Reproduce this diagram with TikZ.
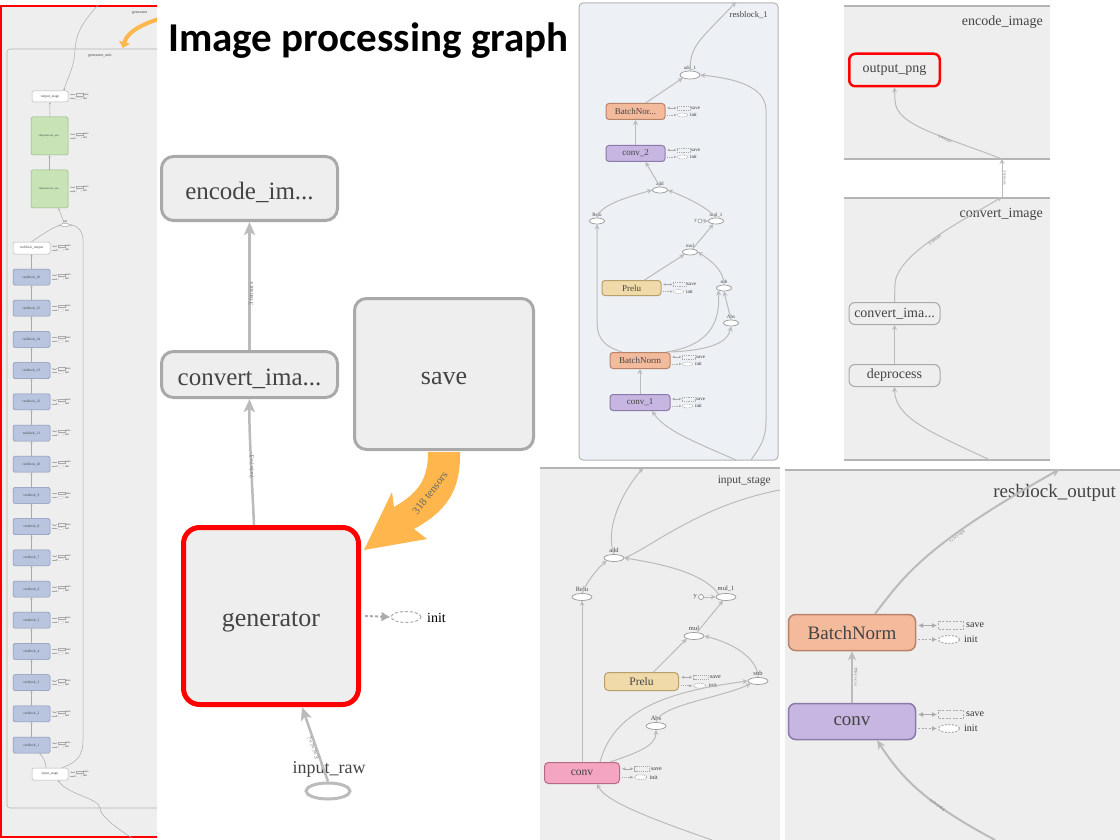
\documentclass[tikz,border=0pt]{standalone}
\usepackage{fontspec}
\setmainfont{Liberation Serif}
\newfontfamily\titlefont{Carlito}
\usetikzlibrary{arrows.meta,shapes.geometric}
\newcommand\fsz[1]{\fontsize{#1}{#1}\selectfont}
\definecolor{panelgray}{HTML}{EEEEEE}
\definecolor{panelblue}{HTML}{EDF0F5}
\definecolor{boxgray}{HTML}{A9A9A9}
\definecolor{bordgray}{HTML}{B4B4B4}
\definecolor{edgegray}{HTML}{BBBBBB}
\definecolor{elgray}{HTML}{999999}
\definecolor{sigray}{HTML}{AAAAAA}
\definecolor{textgray}{HTML}{444444}
\definecolor{salmonF}{HTML}{F4BA9C}
\definecolor{salmonD}{HTML}{B9836A}
\definecolor{lavF}{HTML}{C6B6E1}
\definecolor{lavD}{HTML}{8C7BAA}
\definecolor{tanF}{HTML}{F1DAA9}
\definecolor{tanD}{HTML}{B8A06A}
\definecolor{pinkF}{HTML}{F4A5C1}
\definecolor{pinkD}{HTML}{B66B85}
\definecolor{rbF}{HTML}{B9C5DE}
\definecolor{rbD}{HTML}{8492B5}
\definecolor{grnF}{HTML}{C8E3B6}
\definecolor{grnD}{HTML}{91B47E}
\definecolor{orng}{HTML}{FFB64D}
\definecolor{tred}{HTML}{FF0000}
\tikzset{
  bigbox/.style={draw=boxgray, line width=3, rounded corners=12, fill=panelgray, inner sep=0, text=textgray, font=\fsz{25}, text height=21.5pt, text depth=0pt},
  opbox/.style={draw=boxgray, line width=1, rounded corners=3, inner sep=0, text=textgray},
  opell/.style={ellipse, draw=elgray, fill=white, line width=0.7, inner sep=0},
  ellab/.style={inner sep=0, text=textgray, anchor=south},
  lbl/.style={inner sep=0, text=textgray},
  elbl/.style={inner sep=0, text=textgray!75},
  edge/.style={draw=edgegray, line width=1, -{Stealth[length=5pt,width=5pt]}},
  plainedge/.style={draw=edgegray, line width=1},
  edgetwo/.style={draw=edgegray, line width=2, -{Stealth[length=9pt,width=8pt]}},
  bigedge/.style={draw=edgegray, line width=2.5, -{Stealth[length=13pt,width=11pt,inset=3pt]}},
  sbox/.style={draw=rbD, fill=rbF, rounded corners=1.5, line width=0.5, minimum width=37, minimum height=16, inner sep=0, font=\fsz{3.6}, text=textgray},
  sedge/.style={draw=sigray, line width=0.5, -{Stealth[length=2pt,width=2pt]}},
  saveinit/.pic={%
    \pgfmathsetmacro\sis{#1}%
    \pgfmathsetmacro\sif{10*#1}%
    \pgfmathsetmacro\sia{5*#1}%
    \pgfmathsetmacro\silw{1*#1}%
    \pgfmathsetmacro\sion{2*#1}%
    \pgfmathsetmacro\sioff{1.5*#1}%
    \draw[sigray, line width=\silw pt, {Latex[length=\sia pt,width=\sia pt]}-{Latex[length=\sia pt,width=\sia pt]}] (0,-7*\sis) -- (19*\sis,-7*\sis);
    \node[draw=sigray, line width=\silw pt, dash pattern=on \sion pt off \sioff pt, minimum width=25*\sis, minimum height=8*\sis, inner sep=0, anchor=west] (-sv) at (20*\sis,-7*\sis) {};
    \node[anchor=west, inner sep=0, font=\fsz{\sif}, text=black!80] (-svt) at (48*\sis,-7*\sis) {save};
    \draw[sigray, line width=\silw pt, dash pattern=on \sion pt off \sioff pt, -{Latex[length=\sia pt,width=\sia pt]}] (0,7*\sis) -- (19*\sis,7*\sis);
    \node[ellipse, draw=sigray, fill=white, line width=\silw pt, dash pattern=on \sion pt off \sioff pt, minimum width=21*\sis, minimum height=8*\sis, inner sep=0, anchor=west] (-in) at (20*\sis,7*\sis) {};
    \node[anchor=west, inner sep=0, font=\fsz{\sif}, text=black!80] (-int) at (46*\sis,7*\sis) {init};
  }
}
\begin{document}
\begin{tikzpicture}[x=1pt,y=-1pt]
\useasboundingbox (0,0) rectangle (1120,840);
\fill[white] (0,0) rectangle (1120,840);

% ================= LEFT STRIP =================
\begin{scope}
\clip (0,0) rectangle (157,840);
\fill[panelgray] (0,6) rectangle (157,838);
\draw[bordgray, line width=0.6, rounded corners=3, fill=panelgray] (7,49) rectangle (175,808);
\draw[tred, line width=2] (0,6) -- (160,6);
\draw[tred, line width=2] (1,6) -- (1,838);
\draw[tred, line width=2] (0,837) -- (160,837);
\node[lbl, anchor=west, font=\fsz{4}] (sgenT) at (132,13) {generator};
\node[lbl, font=\fsz{4}] (sgunT) at (100,56) {generator\_unit};
\coordinate (sOrA) at (162,18);
\coordinate (sOrB) at (123,48);
\draw[orng, line width=4, -{Triangle[length=6pt,width=11pt]}] (sOrA) .. controls (142,24) and (127,32) .. (sOrB);

\node[sbox, draw=bordgray, fill=white, minimum width=36, minimum height=11] (sos) at (50,96.5) {output\_stage};
\node[sbox, draw=grnD, fill=grnF, minimum width=37, minimum height=38, font=\fsz{2.8}] (sg1) at (49.5,136) {subpixelconv\_sta...};
\node[sbox, draw=grnD, fill=grnF, minimum width=37, minimum height=38, font=\fsz{2.8}] (sg2) at (49.5,189) {subpixelconv\_sta...};
\node[opell, line width=0.4, minimum width=9, minimum height=3.5] (sadd) at (65,225) {};
\node[ellab, font=\fsz{3}] (saddL) at (65,223) {add};
\node[sbox, draw=bordgray, fill=white, minimum height=12] (sro) at (31.5,248) {resblock\_output};
\node[sbox, draw=bordgray, fill=white, minimum width=36, minimum height=12] (sis) at (50,774) {input\_stage};
\pic (ssos) at (70,96.5) {saveinit=0.28};
\pic (ssg1) at (70,136) {saveinit=0.28};
\pic (ssg2) at (70,189) {saveinit=0.28};
\pic (ssro) at (52,248) {saveinit=0.28};
\pic (ssis) at (70,774) {saveinit=0.28};
\foreach \k in {1,...,16} {
  \pgfmathsetmacro\yy{277+(16-\k)*31.2}
  \node[sbox] (srb\k) at (31.5,\yy) {resblock\_\k};
  \pic (ssrb\k) at (52,\yy) {saveinit=0.28};
}
\foreach \k in {1,...,15} {
  \pgfmathtruncatemacro\kn{\k+1}
  \draw[sedge] (srb\k) -- (srb\kn);
}
\coordinate (sTop) at (98,5);
\draw[sedge] (sTop) .. controls (80,25) and (76,35) .. (75,50) .. controls (74,70) and (66,80) .. ([xshift=14pt]sos.north);
\draw[sedge] (sg1) -- (sos);
\draw[sedge] (sg2) -- (sg1);
\draw[sedge] (sadd) -- ([xshift=9pt]sg2.south);
\draw[sedge] (srb16) -- (sro);
\draw[sedge] (sro.north) .. controls (40,236) and (50,229) .. (sadd.west);
\draw[sedge] ([xshift=-4pt]sis.north) .. controls (46,762) and (43,757) .. ([xshift=8pt]srb1.south);
\draw[sedge] ([xshift=12pt]sis.north) .. controls (78,762) and (83,755) .. (83,740) -- (83,240) .. controls (83,230) and (76,225) .. (sadd.east);
\coordinate (sBot) at (132,838);
\draw[sedge] (sBot) .. controls (112,825) and (100,815) .. (100,808) .. controls (99,798) and (68,795) .. ([xshift=8pt]sis.south);
\end{scope}

% ================= TITLE =================
\node[inner sep=0, anchor=base west, font=\titlefont\bfseries\fsz{41}] (title) at (168,52) {Image processing graph};

% ================= MIDDLE GRAPH =================
\node[bigbox, minimum width=176, minimum height=64] (encm) at (249.5,188.5) {encode\_im...};
\node[bigbox, minimum width=176, minimum height=46] (convm) at (249.5,374.5) {convert\_ima...};
\node[bigbox, minimum width=179, minimum height=151, font=\fsz{26}] (savem) at (444,374) {save};
\node[bigbox, draw=tred, line width=5, rounded corners=16, minimum width=175, minimum height=177, font=\fsz{26}] (gen) at (271,616) {generator};
\node[ellipse, draw=sigray, line width=1, dash pattern=on 3pt off 2pt, minimum width=30, minimum height=11, inner sep=0] (initm) at (406,617) {};
\node[lbl, anchor=west, font=\fsz{14}, text=black] (initT) at (427,618) {init};
\draw[sigray, line width=2, dash pattern=on 3pt off 2pt, -{Latex[length=9pt,width=10pt]}] (gen.east) ++(4,0) -- (initm.west);
\node[ellipse, draw=edgegray, line width=3, minimum width=44, minimum height=16, inner sep=0] (inraw) at (328,791) {};
\node[lbl, font=\fsz{18}] (inrawT) at (329,769) {input\_raw};
\draw[bigedge] (convm) -- (encm);
\draw[bigedge] ([xshift=-17pt]gen.north) .. controls (252,480) and (249,430) .. (convm.south);
\draw[bigedge] (inraw.north) -- ([xshift=31pt]gen.south);
\node[elbl, rotate=90, font=\fsz{6.5}] (lab1) at (251,294) {3 tensors};
\node[elbl, rotate=90, font=\fsz{6.5}] (lab2) at (252,467) {?×?×?×3};
\node[elbl, rotate=-70, font=\fsz{6.5}] (lab3) at (313,748) {?×?×?×3};
\fill[orng] (428,452) -- (460,452) .. controls (461,492) and (445,512) .. (414,529) -- (427,539) -- (364,550) -- (392,492) -- (394,507) .. controls (420,492) and (428,478) .. (428,452) -- cycle;
\node[elbl, rotate=52, font=\fsz{11}, text=black!60] (lab4) at (430,493) {318 tensors};

% ================= RESBLOCK_1 PANEL =================
\draw[bordgray, line width=1, fill=panelblue, rounded corners=4] (579,3) rectangle (778,460);
\node[lbl, anchor=east, font=\fsz{8.7}] (r1T) at (768,15) {resblock\_1};
\node[opell, minimum width=20, minimum height=8] (radd1) at (690,75) {};
\node[ellab, font=\fsz{5}] (radd1L) at (690,70) {add\_1};
\node[opbox, fill=salmonF, draw=salmonD, minimum width=59, minimum height=16, font=\fsz{9}] (rbn2) at (635.5,111.5) {BatchNor...};
\node[opbox, fill=lavF, draw=lavD, minimum width=59, minimum height=16, font=\fsz{9}] (rc2) at (635.5,153.5) {conv\_2};
\node[opell, minimum width=15, minimum height=6] (radd) at (660,190) {};
\node[ellab, font=\fsz{5}] (raddL) at (660,186) {add};
\node[opell, minimum width=15, minimum height=6] (rrelu) at (597,221) {};
\node[ellab, font=\fsz{5}] (rreluL) at (597,217) {Relu};
\node[opell, minimum width=15, minimum height=6] (rmul1) at (716,221) {};
\node[ellab, font=\fsz{5}] (rmul1L) at (716,217) {mul\_1};
\node[circle, draw=elgray, fill=white, minimum size=4, inner sep=0, line width=0.6] (ry) at (700,221) {};
\node[lbl, anchor=east, font=\fsz{5}] (ryL) at (697,221) {y};
\node[opell, minimum width=15, minimum height=6] (rmul) at (690,252) {};
\node[ellab, font=\fsz{5}] (rmulL) at (690,248) {mul};
\node[opbox, fill=tanF, draw=tanD, minimum width=59, minimum height=15, font=\fsz{9}] (rprelu) at (631.5,288) {Prelu};
\node[opell, minimum width=15, minimum height=6] (rsub) at (724,288) {};
\node[ellab, font=\fsz{5}] (rsubL) at (724,284) {sub};
\node[opell, minimum width=15, minimum height=6] (rabs) at (731,323) {};
\node[ellab, font=\fsz{5}] (rabsL) at (731,319) {Abs};
\node[opbox, fill=salmonF, draw=salmonD, minimum width=60, minimum height=16, font=\fsz{9}] (rbn) at (640,360.5) {BatchNorm};
\node[opbox, fill=lavF, draw=lavD, minimum width=60, minimum height=16, font=\fsz{9}] (rc1) at (640,402.5) {conv\_1};
\pic (rsi1) at (667,111.5) {saveinit=0.5};
\pic (rsi2) at (667,153.5) {saveinit=0.5};
\pic (rsi3) at (663,288) {saveinit=0.5};
\pic (rsi4) at (672,360.5) {saveinit=0.5};
\pic (rsi5) at (672,402.5) {saveinit=0.5};
\draw[edge] (rc1) -- (rbn);
\draw[edge] ([xshift=-18pt]rbn.north) .. controls (600,345) and (597,335) .. (597,320) -- (rrelu.south);
\draw[edge] ([xshift=-4pt]rbn.north east) .. controls (712,345) and (720,320) .. (rsub.south west);
\draw[edge] (rbn.north east) .. controls (712,350) and (728,342) .. (rabs.south);
\draw[edge] (rabs.north) -- (rsub.south);
\draw[edge] ([xshift=13pt]rprelu.north) -- (rmul.south west);
\draw[edge] (rsub.north) .. controls (724,270) and (710,260) .. (rmul.east);
\draw[edge] (rmul) -- (rmul1);
\draw[edge] (ry) -- (rmul1);
\draw[edge] (rrelu.north) .. controls (600,205) and (625,198) .. (radd.west);
\draw[edge] (rmul1.north) .. controls (705,205) and (680,195) .. (radd.east);
\draw[edge] (radd.north) -- ([xshift=10pt]rc2.south);
\draw[edge] (rc2) -- (rbn2);
\draw[edge] ([xshift=10pt]rbn2.north) -- (radd1.south west);
\coordinate (r1Out) at (736,2);
\draw[edge] (radd1.north) .. controls (690,45) and (700,40) .. (r1Out);
\coordinate (r1Skip) at (751,460);
\draw[edge] (r1Skip) .. controls (760,447) and (766,440) .. (766,420) -- (766,110) .. controls (766,85) and (730,78) .. (radd1.east);
\coordinate (r1In) at (736,460);
\draw[edge] (r1In) .. controls (690,440) and (665,430) .. ([xshift=12pt]rc1.south);

% ================= INPUT_STAGE PANEL =================
\fill[panelgray] (540,468) rectangle (780,840);
\draw[bordgray, line width=1.2] (540,468) -- (780,468);
\node[lbl, anchor=east, font=\fsz{11.5}] (isT) at (771,481) {input\_stage};
\node[opell, minimum width=20, minimum height=7] (iadd) at (614,558) {};
\node[ellab, font=\fsz{6.5}] (iaddL) at (614,553) {add};
\node[opell, minimum width=20, minimum height=7] (irelu) at (582,597) {};
\node[ellab, font=\fsz{6.5}] (ireluL) at (582,592) {Relu};
\node[opell, minimum width=20, minimum height=7] (imul1) at (726,597) {};
\node[ellab, font=\fsz{6.5}] (imul1L) at (726,592) {mul\_1};
\node[circle, draw=elgray, fill=white, minimum size=5, inner sep=0, line width=0.7] (iy) at (701,597) {};
\node[lbl, anchor=east, font=\fsz{6.5}] (iyL) at (697,597) {y};
\node[opell, minimum width=20, minimum height=7] (imul) at (694,636) {};
\node[ellab, font=\fsz{6.5}] (imulL) at (694,631) {mul};
\node[opbox, fill=tanF, draw=tanD, rounded corners=4, minimum width=74, minimum height=18, font=\fsz{11.5}] (iprelu) at (641.5,681.5) {Prelu};
\node[opell, minimum width=20, minimum height=7] (isub) at (758,681) {};
\node[ellab, font=\fsz{6.5}] (isubL) at (758,676) {sub};
\node[opell, minimum width=20, minimum height=7] (iabs) at (656,726) {};
\node[ellab, font=\fsz{6.5}] (iabsL) at (656,721) {Abs};
\node[opbox, fill=pinkF, draw=pinkD, rounded corners=4, minimum width=75, minimum height=21, font=\fsz{11.5}] (iconv) at (582,773) {conv};
\pic (isi1) at (681,681.5) {saveinit=0.6};
\pic (isi2) at (622,773) {saveinit=0.6};
\draw[edge] (iconv) -- (irelu);
\draw[edge] (irelu.north) .. controls (588,580) and (598,568) .. (iadd.south west);
\coordinate (isOut) at (643,468);
\draw[edge] (iadd.north) .. controls (605,530) and (620,495) .. (isOut);
\coordinate (isSkip) at (780,490);
\draw[plainedge] (iadd.east) .. controls (650,548) and (700,505) .. (isSkip);
\draw[edge] (imul1.north west) .. controls (705,575) and (670,565) .. (iadd.east);
\draw[edge] (imul) -- (imul1);
\draw[edge] (iy) -- (imul1);
\draw[edge] ([xshift=12pt]iprelu.north) -- (imul.south west);
\draw[edge] (isub.north) .. controls (758,662) and (740,645) .. (imul.east);
\draw[edge] ([xshift=18pt]iconv.north) .. controls (615,705) and (680,690) .. (isub.west);
\draw[edge] ([xshift=28pt]iconv.north) .. controls (640,752) and (656,745) .. (iabs.south);
\draw[edge] (iabs.north) .. controls (660,705) and (720,698) .. (isub.south west);
\coordinate (isIn) at (712,840);
\draw[edge] (isIn) .. controls (640,815) and (605,800) .. ([xshift=15pt]iconv.south);

% ================= RIGHT TOP PANELS =================
\fill[panelgray] (844,6) rectangle (1050,159);
\draw[bordgray, line width=1.2] (844,6) -- (1050,6);
\draw[bordgray, line width=1.2] (844,159) -- (1050,159);
\node[lbl, anchor=east, font=\fsz{14}] (encT) at (1043,22) {encode\_image};
\node[opbox, draw=tred, line width=2.5, rounded corners=6, fill=panelgray, minimum width=90.5, minimum height=32.5, font=\fsz{14}] (outpng) at (894.5,70) {output\_png};
\coordinate (encIn) at (1002,159);
\draw[edge] (encIn) .. controls (940,135) and (895,125) .. (895,100) -- (outpng.south);
\node[elbl, rotate=-25, font=\fsz{4}] (lab5) at (945,139) {3 tensors};
\fill[panelgray] (844,198) rectangle (1050,460);
\draw[bordgray, line width=1.2] (844,198) -- (1050,198);
\draw[bordgray, line width=1.2] (844,460) -- (1050,460);
\coordinate (cvOut) at (1002,197);
\draw[edge] (cvOut) -- (encIn);
\node[elbl, rotate=-90, font=\fsz{4}] (lab6) at (1005,178) {3 tensors};
\node[lbl, anchor=east, font=\fsz{14}] (cvT) at (1043,214) {convert\_image};
\node[opbox, fill=panelgray, rounded corners=6, minimum width=91, minimum height=22, font=\fsz{14}] (cvim) at (894.5,313.5) {convert\_ima...};
\node[opbox, fill=panelgray, rounded corners=6, minimum width=91, minimum height=22, font=\fsz{14}] (depr) at (894.5,375.5) {deprocess};
\draw[edge] (depr) -- (cvim);
\draw[edge] (cvim.north) -- (895,285) .. controls (895,255) and (960,222) .. (cvOut);
\node[elbl, rotate=35, font=\fsz{4}] (lab7) at (935,240) {3 tensors};
\coordinate (cvIn) at (990,460);
\draw[edge] (cvIn) .. controls (930,432) and (895,418) .. (depr.south);

% ================= RESBLOCK_OUTPUT PANEL =================
\fill[panelgray] (785,470) rectangle (1120,840);
\draw[bordgray, line width=1.2] (785,470) -- (1120,470);
\node[lbl, anchor=east, font=\fsz{19}] (roT) at (1116,493) {resblock\_output};
\node[opbox, fill=salmonF, draw=salmonD, line width=1.5, rounded corners=7, minimum width=127, minimum height=36, font=\fsz{19}] (obn) at (852,632.5) {BatchNorm};
\node[opbox, fill=lavF, draw=lavD, line width=1.5, rounded corners=7, minimum width=127, minimum height=36, font=\fsz{19}] (ocv) at (852,721.5) {conv};
\pic (osi1) at (918,632.5) {saveinit=1};
\pic (osi2) at (918,721.5) {saveinit=1};
\draw[edgetwo] (ocv) -- (obn);
\coordinate (roOut) at (1060,469);
\draw[edgetwo] ([xshift=23pt]obn.north) .. controls (905,575) and (925,545) .. (roOut);
\coordinate (roIn) at (995,840);
\draw[edgetwo] (roIn) .. controls (920,800) and (900,775) .. ([xshift=25pt]ocv.south);
\node[elbl, rotate=38, font=\fsz{4.5}] (lab8) at (957,537) {?×?×?×64};
\node[elbl, rotate=90, font=\fsz{4.5}] (lab9) at (856,677) {?×?×?×64};
\node[elbl, rotate=-35, font=\fsz{4.5}] (lab10) at (937,805) {?×?×?×64};
\end{tikzpicture}
\end{document}
